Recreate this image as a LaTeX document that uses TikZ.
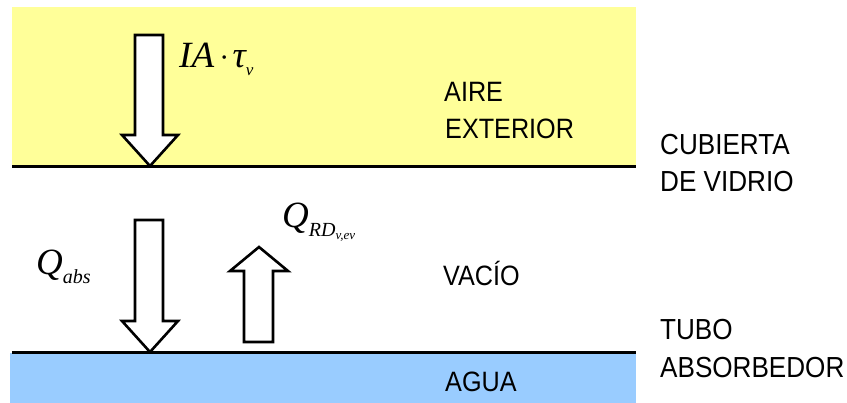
\documentclass[tikz,border=0pt]{standalone}
\usepackage{fontspec}
\newfontfamily\lblfont{Liberation Sans}[FakeStretch=0.9]
\newfontfamily\eqfont{Liberation Serif}[UprightFont=* Italic]
\definecolor{airyellow}{RGB}{255,255,153}
\definecolor{waterblue}{RGB}{153,204,255}
\begin{document}
\begin{tikzpicture}[x=1pt,y=-1pt,
  layer/.style={line width=3pt,line cap=butt},
  flow/.style={draw=black,fill=white,line width=2.6pt,line join=miter},
  inlabel/.style={anchor=base west,inner sep=0pt,font=\lblfont\fontsize{28}{28}\selectfont},
  sidelabel/.style={anchor=base west,inner sep=0pt,font=\lblfont\fontsize{29}{29}\selectfont},
  eqlabel/.style={anchor=base west,inner sep=0pt,font=\eqfont\fontsize{37}{37}\selectfont}]
\useasboundingbox (0,0) rectangle (847,403);
% outside air and water bands
\fill[airyellow] (12,7) rectangle (636,166);
\fill[waterblue] (10,353) rectangle (636,403);
% glass cover and absorber tube
\coordinate (coverL) at (12,167);
\coordinate (coverR) at (636,167);
\coordinate (tubeL) at (12,353);
\coordinate (tubeR) at (636,353);
\draw[layer] (coverL) -- (coverR);
\draw[layer] (tubeL) -- (tubeR);
% block arrows for the heat flows
\draw[flow] (135,35) -- (163,35) -- (163,135) -- (178,135) -- (150,166)
  -- (122,135) -- (135,135) -- cycle;
\draw[flow] (135,220) -- (163,220) -- (163,321) -- (178,321) -- (150,352)
  -- (122,321) -- (135,321) -- cycle;
\draw[flow] (244,342) -- (273,342) -- (273,271) -- (288,271) -- (259,247)
  -- (230,271) -- (244,271) -- cycle;
% flow labels
\node[eqlabel] (irr) at (179,68) {IA\hspace{6pt}{\fontsize{30}{30}\selectfont·}\hspace{5pt}τ\raisebox{-8pt}{\fontsize{17}{17}\selectfont v}};
\node[eqlabel] (qabs) at (36,275) {Q\raisebox{-9pt}{\fontsize{20}{20}\selectfont abs}};
\node[eqlabel] (qrd) at (282,228) {Q\raisebox{-9pt}{\fontsize{20}{20}\selectfont RD\raisebox{-3pt}{\fontsize{13}{13}\selectfont v,ev}}};
% region labels
\node[inlabel] (aire) at (444,102) {AIRE};
\node[inlabel] (ext) at (445,139) {EXTERIOR};
\node[inlabel] (vacio) at (443,286) {VACÍO};
\node[inlabel] (agua) at (445,392) {AGUA};
\node[sidelabel] (cub) at (660,155) {CUBIERTA};
\node[sidelabel] (vid) at (660,192) {DE VIDRIO};
\node[sidelabel] (tubo) at (660,340) {TUBO};
\node[sidelabel] (abs) at (660,378) {ABSORBEDOR};
\end{tikzpicture}
\end{document}
